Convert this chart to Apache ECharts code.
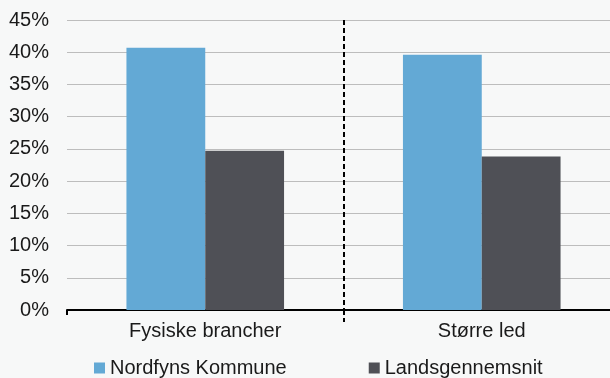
<!DOCTYPE html>
<html>
<head>
<meta charset="utf-8">
<script src="https://cdn.jsdelivr.net/npm/echarts@6/dist/echarts.min.js"></script>
<style>
html,body{margin:0;padding:0;background:#f7f8f8;overflow:hidden;}
#chart{width:620px;height:378px;}
</style>
</head>
<body>
<div id="chart"></div>
<script>
const categories = ['Fysiske brancher', 'Større led'];
const seriesNames = ['Nordfyns Kommune', 'Landsgennemsnit'];
const nordfyns = [40.7, 39.6];
const lands = [24.7, 23.8];
const yTicks = [0, 5, 10, 15, 20, 25, 30, 35, 40, 45];
const dividerSlots = ['', '', ''];

const chart = echarts.init(document.getElementById('chart'), null, {renderer: 'canvas'});
const font = '"Liberation Sans", Arial, Helvetica, sans-serif';
chart.setOption({
  backgroundColor: '#f7f8f8',
  animation: false,
  grid: {left: 67, top: 20, right: 0, bottom: 68, containLabel: false},
  legend: {
    data: seriesNames,
    left: 94, top: 358, padding: 0,
    itemWidth: 11, itemHeight: 11, itemGap: 82,
    icon: 'rect',
    textStyle: {fontFamily: font, fontSize: 20, color: '#1a1a1a'}
  },
  xAxis: [{
    type: 'category', data: categories,
    axisLine: {lineStyle: {color: '#000', width: 2}},
    axisTick: {show: true, length: 5, interval: 0, lineStyle: {color: '#000', width: 2}},
    axisLabel: {fontFamily: font, fontSize: 20, color: '#1a1a1a', margin: 11},
    splitLine: {show: false}
  }, {
    type: 'category', data: dividerSlots, position: 'bottom', boundaryGap: false,
    axisLine: {show: false},
    axisLabel: {show: false},
    axisTick: {show: true, length: 12, interval: function (i) { return i === 1; }, lineStyle: {color: '#000', width: 2, type: [5, 3]}},
    splitLine: {show: true, interval: function (i) { return i === 1; }, lineStyle: {color: '#000', width: 2, type: [5, 3]}}
  }],
  yAxis: {
    type: 'value', min: yTicks[0], max: yTicks[yTicks.length - 1], interval: 5,
    axisLine: {show: false}, axisTick: {show: false},
    axisLabel: {formatter: '{value}%', fontFamily: font, fontSize: 20, color: '#1a1a1a', margin: 18},
    splitLine: {lineStyle: {color: '#bdbdbd', width: 1}}
  },
  series: [{
    name: seriesNames[0], type: 'bar', data: nordfyns, xAxisIndex: 0,
    barGap: '0%', barCategoryGap: '43%',
    itemStyle: {color: '#63a9d5'}
  }, {
    name: seriesNames[1], type: 'bar', data: lands, xAxisIndex: 0,
    barGap: '0%', barCategoryGap: '43%',
    itemStyle: {color: '#4f5056'}
  }]
});
</script>
</body>
</html>
